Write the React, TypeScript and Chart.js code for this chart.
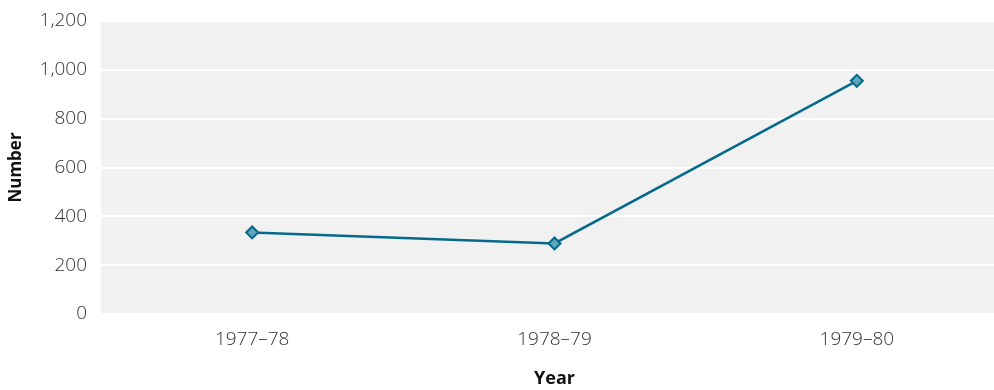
import React, { useEffect, useRef } from "react";
import { Chart, registerables } from "chart.js";

Chart.register(...registerables);

const categories = ["1977–78", "1978–79", "1979–80"];
const values = [334, 289, 955];
const yTicks = [0, 200, 400, 600, 800, 1000, 1200];

const plotBg = {
  id: "plotBg",
  beforeDraw(chart: any) {
    const { ctx, chartArea } = chart;
    ctx.save();
    ctx.fillStyle = "#f1f1f1";
    ctx.fillRect(chartArea.left, chartArea.top, chartArea.right - chartArea.left, chartArea.bottom - chartArea.top);
    ctx.restore();
  },
};

export default function App() {
  const ref = useRef<HTMLCanvasElement>(null);
  useEffect(() => {
    document.body.style.margin = "0";
    const chart = new Chart(ref.current!, {
      type: "line",
      data: {
        labels: categories,
        datasets: [
          {
            data: values,
            borderColor: "#05698c",
            borderWidth: 2.5,
            pointStyle: "rectRot",
            pointRadius: 6,
            pointBorderWidth: 2,
            pointBackgroundColor: "#5ea6bd",
            pointBorderColor: "#05698c",
            tension: 0,
          },
        ],
      },
      options: {
        animation: false,
        responsive: false,
        maintainAspectRatio: false,
        layout: { padding: { top: 0, right: 0, bottom: 0, left: 0 } },
        plugins: { legend: { display: false }, tooltip: { enabled: false } },
        scales: {
          x: {
            offset: true,
            afterFit: (axis: any) => {
              axis.height = 76;
            },
            grid: { display: false, drawTicks: false },
            border: { display: false },
            ticks: { color: "#333", font: { family: "Open Sans", size: 19, weight: 300 }, padding: 14 },
            title: {
              display: true,
              text: "Year",
              color: "#111",
              font: { family: "Open Sans", size: 18, weight: "bold" },
              padding: { top: 0, bottom: 0 },
            },
          },
          y: {
            min: 0,
            max: 1200,
            afterFit: (axis: any) => {
              axis.width = 101;
              axis.paddingTop = 21;
              axis.paddingBottom = 0;
            },
            afterBuildTicks: (axis: any) => {
              axis.ticks = yTicks.map((v) => ({ value: v }));
            },
            grid: { color: "#ffffff", lineWidth: 2, drawTicks: false },
            border: { display: false },
            ticks: {
              color: "#333",
              font: { family: "Open Sans", size: 19, weight: 300 },
              padding: 14,
              callback: (v: any) => Number(v).toLocaleString("en-US"),
            },
            title: {
              display: true,
              text: "Number",
              color: "#111",
              font: { family: "Open Sans", size: 17, weight: "bold" },
              padding: { top: 6, bottom: 0 },
            },
          },
        },
      },
      plugins: [plotBg],
    });
    return () => chart.destroy();
  }, []);
  return (
    <div style={{ width: 994, height: 390, overflow: "hidden", position: "relative" }}>
      <canvas ref={ref} width={1016} height={390} style={{ display: "block", width: 1016, height: 390 }} />
    </div>
  );
}
